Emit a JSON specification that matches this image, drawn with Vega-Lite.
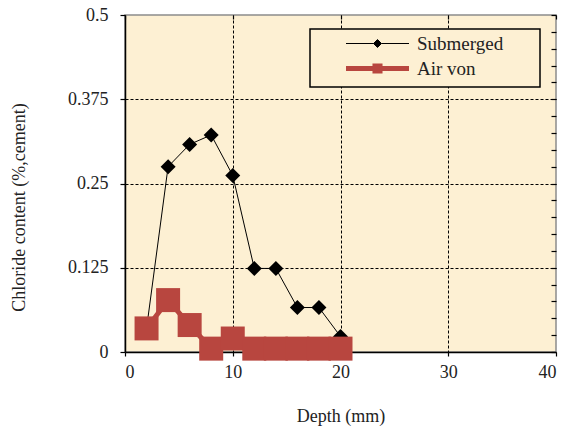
{
  "$schema": "https://vega.github.io/schema/vega-lite/v6.json",
  "width": 431,
  "height": 337,
  "autosize": "none",
  "padding": {"left": 125, "top": 15, "right": 7, "bottom": 82},
  "background": "white",
  "config": {
    "view": {"fill": "#fdf0d3", "stroke": "#8c8c8c", "strokeWidth": 1.5},
    "font": "Liberation Serif"
  },
  "data": {
    "values": [
      {"series": "Submerged", "depth": 2, "chloride": 0.035},
      {"series": "Submerged", "depth": 4, "chloride": 0.275},
      {"series": "Submerged", "depth": 6, "chloride": 0.308},
      {"series": "Submerged", "depth": 8, "chloride": 0.322},
      {"series": "Submerged", "depth": 10, "chloride": 0.262},
      {"series": "Submerged", "depth": 12, "chloride": 0.124},
      {"series": "Submerged", "depth": 14, "chloride": 0.124},
      {"series": "Submerged", "depth": 16, "chloride": 0.066},
      {"series": "Submerged", "depth": 18, "chloride": 0.066},
      {"series": "Submerged", "depth": 20, "chloride": 0.023},
      {"series": "Air von", "depth": 2, "chloride": 0.035},
      {"series": "Air von", "depth": 4, "chloride": 0.077},
      {"series": "Air von", "depth": 6, "chloride": 0.04},
      {"series": "Air von", "depth": 8, "chloride": 0.005},
      {"series": "Air von", "depth": 10, "chloride": 0.02},
      {"series": "Air von", "depth": 12, "chloride": 0.005},
      {"series": "Air von", "depth": 14, "chloride": 0.005},
      {"series": "Air von", "depth": 16, "chloride": 0.005},
      {"series": "Air von", "depth": 18, "chloride": 0.005},
      {"series": "Air von", "depth": 20, "chloride": 0.005}
    ]
  },
  "resolve": {"axis": {"x": "independent", "y": "independent"}},
  "layer": [
    {
      "transform": [{"filter": "datum.series === 'Submerged'"}],
      "mark": {"type": "line", "strokeWidth": 1, "clip": false},
      "encoding": {
        "x": {
          "field": "depth", "type": "quantitative",
          "scale": {"domain": [0, 40], "nice": false},
          "axis": {
            "title": "Depth (mm)",
            "values": [0, 10, 20, 30, 40],
            "labelExpr": "toString(datum.value)",
            "labelFontSize": 18, "labelColor": "#222", "labelPadding": 7, "labelFont": "Liberation Serif",
            "tickSize": 4, "tickColor": "black", "tickWidth": 1.2,
            "domainColor": "black", "domainWidth": 1.5,
            "grid": true, "gridColor": "black", "gridDash": [3, 2], "gridWidth": 1,
            "gridOpacity": {"condition": {"test": "datum.value === 40 || datum.value === 0", "value": 0}, "value": 1},
            "titleFontSize": 18, "titleFont": "Liberation Serif", "titleFontWeight": "normal", "titleColor": "#222",
            "titleBaseline": "alphabetic", "titleY": 69
          }
        },
        "y": {
          "field": "chloride", "type": "quantitative",
          "scale": {"domain": [0, 0.5], "nice": false},
          "axis": {
            "title": "Chloride content (%,cement)",
            "values": [0, 0.125, 0.25, 0.375, 0.5],
            "labelExpr": "toString(datum.value)",
            "labelFontSize": 18, "labelColor": "#222", "labelPadding": 12, "labelFont": "Liberation Serif",
            "tickSize": 5, "tickColor": "black", "tickWidth": 1.2,
            "domainColor": "black", "domainWidth": 1.5,
            "grid": true, "gridColor": "black", "gridDash": [3, 2], "gridWidth": 1,
            "gridOpacity": {"condition": {"test": "datum.value === 0.5 || datum.value === 0", "value": 0}, "value": 1},
            "titleFontSize": 18, "titleFont": "Liberation Serif", "titleFontWeight": "normal", "titleColor": "#222",
            "titleBaseline": "alphabetic", "titleAlign": "center", "titleX": -101, "titleY": 192
          }
        },
        "color": {
          "field": "series", "type": "nominal",
          "scale": {"domain": ["Submerged", "Air von"], "range": ["black", "#b8463f"]},
          "legend": {
            "orient": "none", "legendX": 185, "legendY": 14,
            "title": null,
            "fillColor": "#fdf0d3", "strokeColor": "black",
            "padding": 5, "rowPadding": 1,
            "labelFont": "Liberation Serif", "labelFontSize": 19, "labelColor": "#222",
            "symbolSize": 324, "symbolOffset": 53, "labelOffset": 30,
            "encode": {
              "legend": {"update": {"strokeWidth": {"value": 1.5}}},
              "symbols": {
                "update": {
                  "shape": {"signal": "datum.value === 'Submerged' ? 'M-3.5,0H-0.44L0,-0.44L0.44,0L0,0.44L-0.44,0ZM0.44,0H3.5M17.2,0' : 'M-3.5,0H-0.28V-0.28H0.28V0.28H-0.28V0ZM0.28,0H3.5'"},
                  "strokeWidth": {"signal": "datum.value === 'Submerged' ? 1 : 5"},
                  "fill": {"signal": "datum.value === 'Submerged' ? 'black' : '#b8463f'"},
                  "stroke": {"signal": "datum.value === 'Submerged' ? 'black' : '#b8463f'"},
                  "fillOpacity": {"value": 1},
                  "strokeOpacity": {"value": 1},
                  "opacity": {"value": 1}
                }
              }
            }
          }
        }
      }
    },
    {
      "transform": [{"filter": "datum.series === 'Submerged'"}],
      "mark": {"type": "point", "shape": "diamond", "filled": true, "size": 225, "opacity": 1, "clip": false},
      "encoding": {
        "x": {
          "field": "depth", "type": "quantitative",
          "axis": {"values": [0, 10, 20, 30, 40], "labels": false, "domain": false, "grid": false, "title": null, "tickSize": -4, "tickColor": "black", "tickWidth": 1.2}
        },
        "y": {
          "field": "chloride", "type": "quantitative",
          "axis": {
            "values": [0, 0.025, 0.05, 0.075, 0.1, 0.125, 0.15, 0.175, 0.2, 0.225, 0.25, 0.275, 0.3, 0.325, 0.35, 0.375, 0.4, 0.425, 0.45, 0.475, 0.5],
            "labels": false, "domain": false, "grid": false, "title": null, "tickSize": -5, "tickColor": "black", "tickWidth": 1.2
          }
        },
        "color": {"field": "series", "type": "nominal"}
      }
    },
    {
      "transform": [{"filter": "datum.series === 'Air von'"}],
      "mark": {"type": "line", "strokeWidth": 5, "clip": false},
      "encoding": {
        "x": {"field": "depth", "type": "quantitative", "axis": null},
        "y": {"field": "chloride", "type": "quantitative", "axis": null},
        "color": {"field": "series", "type": "nominal"}
      }
    },
    {
      "transform": [{"filter": "datum.series === 'Air von'"}],
      "mark": {"type": "point", "shape": "square", "filled": true, "size": 576, "opacity": 1, "clip": false},
      "encoding": {
        "x": {"field": "depth", "type": "quantitative", "axis": null},
        "y": {"field": "chloride", "type": "quantitative", "axis": null},
        "color": {"field": "series", "type": "nominal"}
      }
    }
  ]
}
